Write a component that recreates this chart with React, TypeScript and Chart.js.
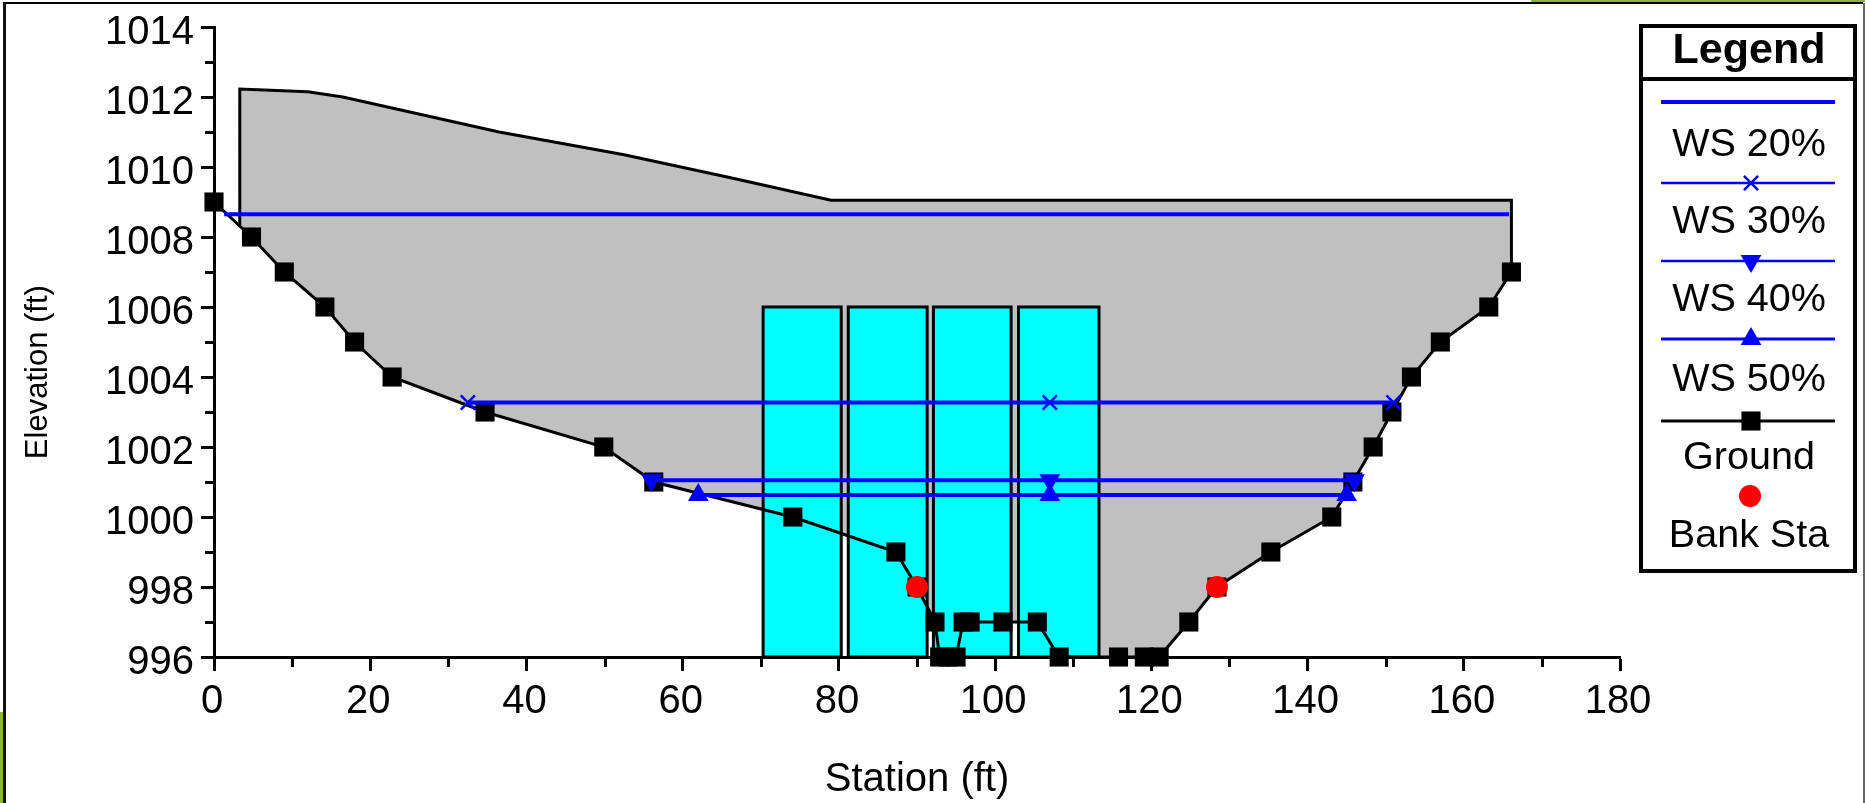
import React, { useEffect, useRef } from "react";
import { Chart, registerables } from "chart.js";
import { drawPoint } from "chart.js/helpers";

Chart.register(...registerables);

type Pt = { x: number; y: number };
const toPts = (xs: number[], ys: number[]): Pt[] => xs.map((x, i) => ({ x, y: ys[i] }));

// ---------- data ----------
const groundStations = [0, 4.8, 9, 14.2, 18, 22.8, 34.7, 49.9, 56.3, 74.1, 87.3, 90, 92.3, 92.9, 94, 95, 95.9, 96.8, 101, 105.4, 108.2, 115.8, 119.1, 121, 124.8, 128.4, 135.3, 143.1, 145.8, 148.4, 150.8, 153.3, 157, 163.2, 166.1];
const groundElevations = [1009, 1008, 1007, 1006, 1005, 1004, 1003, 1002, 1001, 1000, 999, 998, 997, 996, 996, 996, 997, 997, 997, 997, 996, 996, 996, 996, 997, 998, 999, 1000, 1001, 1002, 1003, 1004, 1005, 1006, 1007];

const bankStations = [90, 128.4];
const bankElevations = [998, 998];

const deckStations = [3.3, 3.3, 6.4, 12, 16.5, 36.5, 52.5, 66, 79, 166.1, 166.1];
const deckElevations = [1008.3, 1012.23, 1012.2, 1012.15, 1012, 1011, 1010.35, 1009.7, 1009.05, 1009.05, 1007];

// the grey section: deck outline, then the ground back to the left wall
const sectionStations = [3.3, 3.3, 6.4, 12, 16.5, 36.5, 52.5, 66, 79, 166.1, 166.1, 163.2, 157, 153.3, 150.8, 148.4, 145.8, 143.1, 135.3, 128.4, 124.8, 121, 119.1, 115.8, 108.2, 105.4, 101, 96.8, 95.9, 95, 94, 92.9, 92.3, 90, 87.3, 74.1, 56.3, 49.9, 34.7, 22.8, 18, 14.2, 9, 4.8];
const sectionElevations = [1008.3, 1012.23, 1012.2, 1012.15, 1012, 1011, 1010.35, 1009.7, 1009.05, 1009.05, 1007, 1006, 1005, 1004, 1003, 1002, 1001, 1000, 999, 998, 997, 996, 996, 996, 996, 997, 997, 997, 997, 996, 996, 996, 997, 998, 999, 1000, 1001, 1002, 1003, 1004, 1005, 1006, 1007, 1008];

const culvertLefts = [70.3, 81.2, 92.1, 103];
const culvertRights = [80.3, 91.3, 102.05, 113.3];
const culvertInvert = 996;
const culvertCrown = 1006;

const ws20Stations = [1.3, 165.8];
const ws20Elevations = [1008.65, 1008.65];
const ws30Stations = [32.5, 107, 151];
const ws30Elevations = [1003.27, 1003.27, 1003.27];
const ws40Stations = [56, 107, 146];
const ws40Elevations = [1001.05, 1001.05, 1001.05];
const ws50Stations = [62, 107, 145];
const ws50Elevations = [1000.63, 1000.63, 1000.63];

const xTickLabels = ["0", "20", "40", "60", "80", "100", "120", "140", "160", "180"];
const yTickLabels = ["996", "998", "1000", "1002", "1004", "1006", "1008", "1010", "1012", "1014"];

const legendTitle = "Legend";
const seriesNames = ["WS 20%", "WS 30%", "WS 40%", "WS 50%", "Ground", "Bank Sta"];

const BLUE = "#0000FF";
const FONT = "'Liberation Sans', Arial, sans-serif";

const culvertDatasets = culvertLefts.map((l, i) => {
  const r = culvertRights[i];
  return {
    label: "Culvert " + (i + 1),
    data: toPts([l, l, r, r, l], [culvertInvert, culvertCrown, culvertCrown, culvertInvert, culvertInvert]),
    showLine: true, fill: "shape", backgroundColor: "#00FFFF", borderColor: "#000", borderWidth: 3, pointRadius: 0, tension: 0,
  };
});

const minorTicks = {
  id: "minorTicks",
  beforeDatasetsDraw(chart: any) {
    const { ctx, scales, chartArea } = chart;
    ctx.save();
    ctx.fillStyle = "#000";
    for (let v = 10; v < 180; v += 20) {
      const px = Math.round(scales.x.getPixelForValue(v));
      ctx.fillRect(px - 1, chartArea.bottom, 3, 10);
    }
    for (let v = 997; v < 1014; v += 2) {
      const py = Math.round(scales.y.getPixelForValue(v));
      ctx.fillRect(chartArea.left - 9, py - 1, 9, 3);
    }
    ctx.restore();
  },
};

const legendBox = {
  id: "legendBox",
  afterDraw(chart: any) {
    const { ctx } = chart;
    const left = 1641, right = 1855, top = 26, bottom = 571;
    const lineL = 1661, lineR = 1835, cx = 1751;
    ctx.save();
    ctx.strokeStyle = "#000";
    ctx.lineWidth = 4;
    ctx.strokeRect(left, top, right - left, bottom - top);
    ctx.fillStyle = "#000";
    ctx.fillRect(left, 77, right - left, 4);
    ctx.textAlign = "center";
    ctx.textBaseline = "middle";
    ctx.font = "bold 43px " + FONT;
    ctx.fillText(legendTitle, 1749, 51);
    ctx.font = "39.5px " + FONT;
    const textYs = [145, 222, 300, 380, 458, 536];
    seriesNames.forEach((n, i) => ctx.fillText(n, 1749, textYs[i]));
    const rows = [
      { y: 102, c: BLUE, w: 4, style: null as any, r: 0, rot: 0 },
      { y: 183, c: BLUE, w: 2.5, style: "crossRot", r: 10, rot: 0 },
      { y: 261, c: BLUE, w: 2.5, style: "triangle", r: 12, rot: 180 },
      { y: 339, c: BLUE, w: 3, style: "triangle", r: 12, rot: 0 },
      { y: 421, c: "#000", w: 3, style: "rect", r: 13.5, rot: 0 },
    ];
    rows.forEach((row) => {
      ctx.strokeStyle = row.c;
      ctx.fillStyle = row.c;
      ctx.lineWidth = row.w;
      ctx.beginPath();
      ctx.moveTo(lineL, row.y);
      ctx.lineTo(lineR, row.y);
      ctx.stroke();
      if (row.style) {
        drawPoint(ctx, { pointStyle: row.style, radius: row.r, rotation: row.rot, borderWidth: row.style === "crossRot" ? 2.5 : 0 }, cx, row.y);
      }
    });
    ctx.fillStyle = "#FF0000";
    drawPoint(ctx, { pointStyle: "circle", radius: 11, rotation: 0, borderWidth: 0 }, 1750, 496);
    ctx.restore();
  },
};

export default function App() {
  const ref = useRef<HTMLCanvasElement>(null);
  useEffect(() => {
    const chart = new Chart(ref.current as HTMLCanvasElement, {
      type: "scatter",
      plugins: [minorTicks, legendBox],
      data: {
        // the first dataset is painted last
        datasets: [
          { label: seriesNames[5], data: toPts(bankStations, bankElevations), showLine: false, pointStyle: "circle", pointRadius: 11, pointBackgroundColor: "#FF0000", pointBorderWidth: 0 },
          { label: seriesNames[3], data: toPts(ws50Stations, ws50Elevations), showLine: true, borderColor: BLUE, borderWidth: 4, pointStyle: "triangle", pointRadius: 12, pointBackgroundColor: BLUE, pointBorderWidth: 0 },
          { label: seriesNames[2], data: toPts(ws40Stations, ws40Elevations), showLine: true, borderColor: BLUE, borderWidth: 4, pointStyle: "triangle", pointRotation: 180, pointRadius: 12, pointBackgroundColor: BLUE, pointBorderWidth: 0 },
          { label: seriesNames[1], data: toPts(ws30Stations, ws30Elevations), showLine: true, borderColor: BLUE, borderWidth: 4, pointStyle: "crossRot", pointRadius: 10, pointBorderColor: BLUE, pointBorderWidth: 2.5 },
          { label: seriesNames[0], data: toPts(ws20Stations, ws20Elevations), showLine: true, borderColor: BLUE, borderWidth: 4, pointRadius: 0 },
          { label: seriesNames[4], data: toPts(groundStations, groundElevations), showLine: true, borderColor: "#000", borderWidth: 3, pointStyle: "rect", pointRadius: 13.5, pointBackgroundColor: "#000", pointBorderWidth: 0 },
          ...culvertDatasets,
          { label: "Deck", data: toPts(deckStations, deckElevations), showLine: true, borderColor: "#000", borderWidth: 3, pointRadius: 0 },
          { label: "Section", data: toPts(sectionStations, sectionElevations), showLine: true, fill: "shape", backgroundColor: "#C0C0C0", borderWidth: 0, pointRadius: 0 },
        ] as any,
      },
      options: {
        responsive: false,
        animation: false,
        clip: false as any,
        layout: { padding: { left: 0, top: 24, right: 245, bottom: 0 } },
        plugins: { legend: { display: false }, tooltip: { enabled: false }, title: { display: false } },
        elements: { line: { tension: 0 }, point: { hitRadius: 0 } },
        scales: {
          x: {
            type: "linear",
            min: 0,
            max: 180,
            afterFit: (s: any) => { s.height = 146; },
            border: { color: "#000", width: 3 },
            grid: {
              drawOnChartArea: false,
              drawTicks: true,
              tickLength: 14,
              tickWidth: 3,
              tickColor: (c: any) => (xTickLabels.includes(String(c.tick?.value)) ? "#000" : "rgba(0,0,0,0)"),
            },
            ticks: {
              stepSize: 10,
              autoSkip: false,
              maxRotation: 0,
              minRotation: 0,
              padding: 11,
              labelOffset: -2,
              color: "#000",
              font: { family: FONT, size: 40, lineHeight: 1 },
              callback: (v: any) => (xTickLabels.includes(String(v)) ? String(v) : ""),
            },
            title: { display: true, text: "Station (ft)", color: "#000", font: { family: FONT, size: 40, lineHeight: 1 }, padding: { top: 0, bottom: 3 } },
          },
          y: {
            type: "linear",
            min: 996,
            max: 1014,
            afterFit: (s: any) => { s.width = 214; },
            border: { color: "#000", width: 3 },
            grid: {
              drawOnChartArea: false,
              drawTicks: true,
              tickLength: 13,
              tickWidth: 3,
              tickColor: (c: any) => (yTickLabels.includes(String(c.tick?.value)) ? "#000" : "rgba(0,0,0,0)"),
            },
            ticks: {
              stepSize: 1,
              autoSkip: false,
              padding: 7,
              labelOffset: 6,
              color: "#000",
              font: { family: FONT, size: 40, lineHeight: 1 },
              callback: (v: any) => (yTickLabels.includes(String(v)) ? String(v) : ""),
            },
            title: { display: true, text: "Elevation (ft)       ", color: "#000", font: { family: FONT, size: 31, lineHeight: 1 }, padding: { top: 23, bottom: 0 } },
          },
        },
      } as any,
    });
    return () => chart.destroy();
  }, []);

  const bar = (s: React.CSSProperties) => <div style={{ position: "absolute", ...s }} />;
  return (
    <div style={{ position: "fixed", left: 0, top: 0, width: 1865, height: 803, background: "#fff", overflow: "hidden" }}>
      <canvas ref={ref} width={1865} height={803} style={{ position: "absolute", left: 0, top: 0, display: "block" }} />
      {bar({ left: 3, top: 2, width: 1860, height: 2, background: "#000" })}
      {bar({ left: 3, top: 2, width: 3, height: 801, background: "#111" })}
      {bar({ left: 1863, top: 3, width: 2, height: 800, background: "#666" })}
      {bar({ left: 1531, top: 0, width: 334, height: 2, background: "#8DB33A" })}
      {bar({ left: 0, top: 712, width: 3, height: 91, background: "#8DB33A" })}
    </div>
  );
}
